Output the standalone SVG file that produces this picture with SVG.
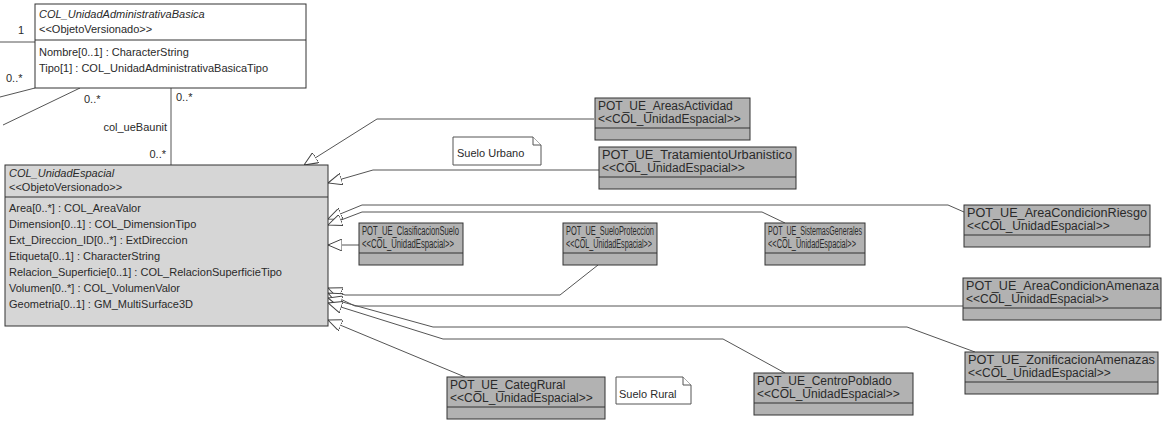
<svg xmlns="http://www.w3.org/2000/svg" width="1162" height="425" viewBox="0 0 1162 425">
<style>
text{font-family:"Liberation Sans",Arial,sans-serif;font-size:11px;fill:#2a2a2a}
.it{font-style:italic}
.g text{font-size:12px}
.wbox{fill:#ffffff;stroke:#333;stroke-width:1}
.lbox{fill:#d6d6d6;stroke:#333;stroke-width:1}
.gbox{fill:#b2b2b2;stroke:#333;stroke-width:1}
.div{stroke:#333;stroke-width:1}
.con{fill:none;stroke:#555;stroke-width:1}
.note{fill:#fff;stroke:#555;stroke-width:1}
</style>
<defs>
<marker id="gen" viewBox="0 0 14 12" refX="14" refY="6" markerWidth="14" markerHeight="12" markerUnits="userSpaceOnUse" orient="auto">
<path d="M0,0 L14,6 L0,12 Z" fill="#fff" stroke="#444" stroke-width="1"/>
</marker>
</defs>

<g id="connectors">
<polyline class="con" points="0,42 35,42"/>
<text x="18" y="34">1</text>
<polyline class="con" points="0,97 35,88"/>
<text x="6" y="82">0..*</text>
<polyline class="con" points="3,125 80,88"/>
<text x="84" y="103">0..*</text>
<polyline class="con" points="171,88 171,165"/>
<text x="176" y="101">0..*</text>
<text x="167" y="131" text-anchor="end">col_ueBaunit</text>
<text x="166" y="158" text-anchor="end">0..*</text>

<polyline class="con" points="594,119 377,119 304,165" marker-end="url(#gen)"/>
<polyline class="con" points="599,170 373,170 328,183" marker-end="url(#gen)"/>
<polyline class="con" points="964,212 948,205 362,205 328,219" marker-end="url(#gen)"/>
<polyline class="con" points="785,223 762,212 362,212 328,225" marker-end="url(#gen)"/>
<polyline class="con" points="359,245 328,245" marker-end="url(#gen)"/>
<polyline class="con" points="598,265 560,295 345,295 328,288" marker-end="url(#gen)"/>
<polyline class="con" points="963,306 355,306 328,293" marker-end="url(#gen)"/>
<polyline class="con" points="975,352 907,327 433,327 328,298" marker-end="url(#gen)"/>
<polyline class="con" points="785,373 723,339 443,339 328,303" marker-end="url(#gen)"/>
<polyline class="con" points="465,377 328,320" marker-end="url(#gen)"/>
</g>

<g id="COL_UnidadAdministrativaBasica">
<rect class="wbox" x="35" y="4" width="271" height="84"/>
<text class="it" x="39" y="18">COL_UnidadAdministrativaBasica</text>
<text x="39" y="33">&lt;&lt;ObjetoVersionado&gt;&gt;</text>
<line class="div" x1="35" y1="40" x2="306" y2="40"/>
<text x="39" y="56">Nombre[0..1] : CharacterString</text>
<text x="39" y="72">Tipo[1] : COL_UnidadAdministrativaBasicaTipo</text>
</g>

<g id="COL_UnidadEspacial">
<rect class="lbox" x="5" y="165" width="323" height="161"/>
<text class="it" x="9" y="177">COL_UnidadEspacial</text>
<text x="9" y="191">&lt;&lt;ObjetoVersionado&gt;&gt;</text>
<line class="div" x1="5" y1="197" x2="328" y2="197"/>
<text x="9" y="212">Area[0..*] : COL_AreaValor</text>
<text x="9" y="228">Dimension[0..1] : COL_DimensionTipo</text>
<text x="9" y="244">Ext_Direccion_ID[0..*] : ExtDireccion</text>
<text x="9" y="260">Etiqueta[0..1] : CharacterString</text>
<text x="9" y="276">Relacion_Superficie[0..1] : COL_RelacionSuperficieTipo</text>
<text x="9" y="292">Volumen[0..*] : COL_VolumenValor</text>
<text x="9" y="308">Geometria[0..1] : GM_MultiSurface3D</text>
</g>

<g id="POT_UE_AreasActividad" class="g">
<rect class="gbox" x="595" y="98" width="155" height="42"/>
<text x="598" y="110">POT_UE_AreasActividad</text>
<text x="598" y="123">&lt;&lt;COL_UnidadEspacial&gt;&gt;</text>
<line class="div" x1="595" y1="128" x2="750" y2="128"/>
</g>

<g id="POT_UE_TratamientoUrbanistico" class="g">
<rect class="gbox" x="599" y="147" width="197" height="42"/>
<text x="602" y="159" textLength="190" lengthAdjust="spacingAndGlyphs">POT_UE_TratamientoUrbanistico</text>
<text x="602" y="172">&lt;&lt;COL_UnidadEspacial&gt;&gt;</text>
<line class="div" x1="599" y1="177" x2="796" y2="177"/>
</g>

<g id="POT_UE_ClasificacionSuelo" class="g">
<rect class="gbox" x="359" y="223" width="104" height="42"/>
<text x="362" y="235" textLength="97" lengthAdjust="spacingAndGlyphs">POT_UE_ClasificacionSuelo</text>
<text x="362" y="248" textLength="92" lengthAdjust="spacingAndGlyphs">&lt;&lt;COL_UnidadEspacial&gt;&gt;</text>
<line class="div" x1="359" y1="253" x2="463" y2="253"/>
</g>

<g id="POT_UE_SueloProteccion" class="g">
<rect class="gbox" x="563" y="223" width="94" height="42"/>
<text x="566" y="235" textLength="88" lengthAdjust="spacingAndGlyphs">POT_UE_SueloProteccion</text>
<text x="566" y="248" textLength="86" lengthAdjust="spacingAndGlyphs">&lt;&lt;COL_UnidadEspacial&gt;&gt;</text>
<line class="div" x1="563" y1="253" x2="657" y2="253"/>
</g>

<g id="POT_UE_SistemasGenerales" class="g">
<rect class="gbox" x="765" y="223" width="100" height="42"/>
<text x="768" y="235" textLength="94" lengthAdjust="spacingAndGlyphs">POT_UE_SistemasGenerales</text>
<text x="768" y="248" textLength="88" lengthAdjust="spacingAndGlyphs">&lt;&lt;COL_UnidadEspacial&gt;&gt;</text>
<line class="div" x1="765" y1="253" x2="865" y2="253"/>
</g>

<g id="POT_UE_AreaCondicionRiesgo" class="g">
<rect class="gbox" x="964" y="205" width="186" height="42"/>
<text x="967" y="217" textLength="180" lengthAdjust="spacingAndGlyphs">POT_UE_AreaCondicionRiesgo</text>
<text x="967" y="230">&lt;&lt;COL_UnidadEspacial&gt;&gt;</text>
<line class="div" x1="964" y1="235" x2="1150" y2="235"/>
</g>

<g id="POT_UE_AreaCondicionAmenaza" class="g">
<rect class="gbox" x="963" y="278" width="198" height="42"/>
<text x="966" y="290" textLength="193" lengthAdjust="spacingAndGlyphs">POT_UE_AreaCondicionAmenaza</text>
<text x="966" y="303">&lt;&lt;COL_UnidadEspacial&gt;&gt;</text>
<line class="div" x1="963" y1="308" x2="1161" y2="308"/>
</g>

<g id="POT_UE_ZonificacionAmenazas" class="g">
<rect class="gbox" x="965" y="352" width="193" height="42"/>
<text x="968" y="364" textLength="187" lengthAdjust="spacingAndGlyphs">POT_UE_ZonificacionAmenazas</text>
<text x="968" y="377">&lt;&lt;COL_UnidadEspacial&gt;&gt;</text>
<line class="div" x1="965" y1="382" x2="1158" y2="382"/>
</g>

<g id="POT_UE_CentroPoblado" class="g">
<rect class="gbox" x="754" y="373" width="159" height="42"/>
<text x="757" y="385">POT_UE_CentroPoblado</text>
<text x="757" y="398">&lt;&lt;COL_UnidadEspacial&gt;&gt;</text>
<line class="div" x1="754" y1="403" x2="913" y2="403"/>
</g>

<g id="POT_UE_CategRural" class="g">
<rect class="gbox" x="447" y="377" width="158" height="42"/>
<text x="450" y="389">POT_UE_CategRural</text>
<text x="450" y="402">&lt;&lt;COL_UnidadEspacial&gt;&gt;</text>
<line class="div" x1="447" y1="407" x2="605" y2="407"/>
</g>

<g id="note_SueloUrbano">
<path class="note" d="M453,137 H533 L541,145 V165 H453 Z"/>
<path class="note" d="M533,137 V145 H541"/>
<text x="457" y="157">Suelo Urbano</text>
</g>

<g id="note_SueloRural">
<path class="note" d="M616,377 H683 L691,385 V404 H616 Z"/>
<path class="note" d="M683,377 V385 H691"/>
<text x="619" y="398">Suelo Rural</text>
</g>
</svg>
